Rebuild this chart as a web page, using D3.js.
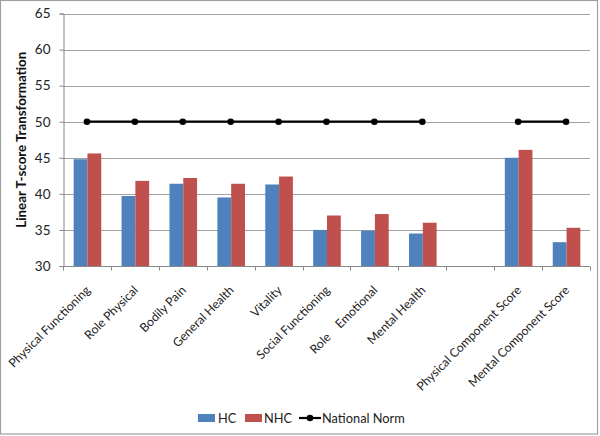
<!DOCTYPE html>
<html><head><meta charset="utf-8">
<script src="https://cdn.jsdelivr.net/npm/d3@7"></script>
<style>body{margin:0;background:#fff}svg{display:block}text{font-family:Lato,"Open Sans",sans-serif}</style>
</head><body><svg id="c" width="600" height="436"></svg>
<script>
const categories = ["Physical Functioning","Role Physical","Bodily Pain","General Health","Vitality","Social Functioning","Role    Emotional","Mental Health","","Physical Component Score","Mental Component Score"];
const hcValues  = [44.8, 39.7, 41.4, 39.5, 41.3, 35.0, 34.9, 34.5, null, 45.0, 33.3];
const nhcValues = [45.6, 41.8, 42.2, 41.4, 42.4, 37.0, 37.2, 36.0, null, 46.1, 35.3];
const normValues = [50, 50, 50, 50, 50, 50, 50, 50, null, 50, 50];
const yTicks = [30, 35, 40, 45, 50, 55, 60, 65];
const seriesNames = ["HC", "NHC", "National Norm"];
const colors = {HC: "#4F81BD", NHC: "#C0504D", norm: "#000"};

const svg = d3.select("#c");
svg.append("rect").attr("x",0.5).attr("y",0.5).attr("width",597).attr("height",433.5)
  .attr("fill","#fff").attr("stroke","#a0a0a0").attr("stroke-width",1.2);

const L = 63, R = 590, T = 13.5, B = 266;
const idx = categories.map((_, i) => i);
const x = d3.scaleBand().domain(idx).range([L, R]).paddingInner(0).paddingOuter(0);
const y = d3.scaleLinear().domain([30, 65]).range([B, T]);
const inner = d3.scaleBand().domain(["HC","NHC"]).range([0, 27.6]);
const off = (x.bandwidth() - 27.6) / 2 + 0.5;

// grid
svg.append("g").selectAll("line").data(yTicks.filter(t => t > 30)).join("line")
  .attr("x1", L).attr("x2", R).attr("y1", d => Math.round(y(d)) + 0.5).attr("y2", d => Math.round(y(d)) + 0.5)
  .attr("stroke", "#a0a0a0").attr("stroke-width", 1);

// y axis
const yAxis = svg.append("g").attr("transform", `translate(${L + 0.5},0)`)
  .call(d3.axisLeft(y).tickValues(yTicks).tickSize(4).tickPadding(9));
yAxis.select(".domain").attr("stroke", "#888");
yAxis.selectAll(".tick line").attr("stroke", "#888");
yAxis.selectAll("text").attr("font-size", 13.5).attr("fill", "#222").style("font-family", "Lato");

// bars
const data = idx.map(i => ({i, HC: hcValues[i], NHC: nhcValues[i]}));
["HC","NHC"].forEach(s => {
  svg.append("g").selectAll("rect").data(data.filter(d => d[s] != null)).join("rect")
    .attr("x", d => x(d.i) + off + inner(s)).attr("width", inner.bandwidth())
    .attr("y", d => y(d[s])).attr("height", d => y(30) - y(d[s]))
    .attr("fill", colors[s]);
});

// x axis
const xAxis = svg.append("g").attr("transform", `translate(0,${Math.round(B) + 0.5})`);
xAxis.append("line").attr("x1", L).attr("x2", R).attr("stroke", "#888");
const bounds = idx.map(i => x(i)).concat([R]);
xAxis.selectAll(".tk").data(bounds).join("line").attr("class","tk")
  .attr("x1", d => Math.round(d) + 0.5).attr("x2", d => Math.round(d) + 0.5).attr("y1", 0).attr("y2", 4).attr("stroke", "#888");
svg.append("g").selectAll("text").data(idx.filter(i => categories[i])).join("text")
  .attr("transform", i => `translate(${x(i) + x.bandwidth()/2 + 4},${291}) rotate(-45)`)
  .attr("text-anchor", "end").attr("font-size", 12.2).attr("fill", "#222")
  .style("white-space", "pre").text(i => categories[i]);

// national norm line
const line = d3.line().defined(d => d != null)
  .x((d, i) => x(i) + x.bandwidth()/2).y(d => y(d));
svg.append("path").datum(normValues).attr("d", line).attr("fill", "none")
  .attr("stroke", colors.norm).attr("stroke-width", 2.2);
svg.append("g").selectAll("circle").data(idx.filter(i => normValues[i] != null)).join("circle")
  .attr("cx", i => x(i) + x.bandwidth()/2).attr("cy", i => y(normValues[i])).attr("r", 3.3).attr("fill", colors.norm);

// y label
svg.append("text").attr("transform", `translate(26,${(T + B)/2}) rotate(-90)`)
  .attr("text-anchor", "middle").attr("font-size", 13.3).attr("font-weight", "bold").attr("fill", "#111")
  .text("Linear T-score Transformation");

// legend
const lg = svg.append("g").attr("transform", "translate(0,418)");
const fs = 12.8;
lg.append("rect").attr("x", 198).attr("y", -4).attr("width", 17).attr("height", 8).attr("fill", colors.HC);
lg.append("text").attr("x", 218).attr("dy", "0.36em").attr("font-size", fs).attr("fill", "#222").text(seriesNames[0]);
lg.append("rect").attr("x", 245).attr("y", -4).attr("width", 17).attr("height", 8).attr("fill", colors.NHC);
lg.append("text").attr("x", 264).attr("dy", "0.36em").attr("font-size", fs).attr("fill", "#222").text(seriesNames[1]);
lg.append("line").attr("x1", 299).attr("x2", 321).attr("stroke", "#000").attr("stroke-width", 2.2);
lg.append("circle").attr("cx", 310).attr("r", 3.3).attr("fill", "#000");
lg.append("text").attr("x", 322).attr("dy", "0.36em").attr("font-size", fs).attr("fill", "#222").text(seriesNames[2]);
</script></body></html>
